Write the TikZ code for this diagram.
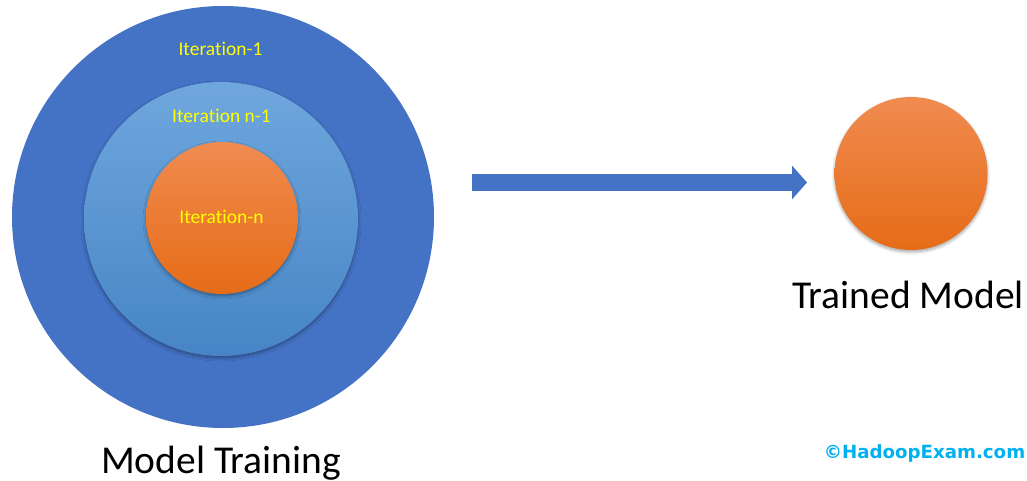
\documentclass[tikz,border=0pt]{standalone}
\usepackage{fontspec}
\setmainfont{Carlito}[Ligatures=NoCommon]
\newfontfamily\wmfont{DejaVu Sans}
\usepackage{tikz}
\usetikzlibrary{arrows.meta,shadows.blur}

\definecolor{darkblue}{HTML}{4472C4}
\definecolor{lightblueT}{HTML}{6FA7DD}
\definecolor{lightblueB}{HTML}{4785C6}
\definecolor{orangeT}{HTML}{F08B50}
\definecolor{orangeB}{HTML}{E66C17}
\definecolor{itercol}{HTML}{FFFF00}
\definecolor{wmblue}{HTML}{00B0F0}

\tikzset{
  ring/.style={circle, inner sep=0pt},
  softshadow/.style={blur shadow={shadow xshift=0pt, shadow yshift=-2pt,
      shadow blur radius=3pt, shadow blur steps=6, shadow opacity=35}},
  orangeball/.style={ring, softshadow, top color=orangeT, bottom color=orangeB},
  iterlbl/.style={inner sep=0pt, anchor=base, text=itercol,
      font=\fontsize{19.5}{21}\selectfont},
  bigtxt/.style={inner sep=0pt, anchor=base, font=\fontsize{39.5}{42}\selectfont},
  flow/.style={draw=darkblue, line width=17pt, -{Triangle[length=15pt,width=33pt]}}
}

\begin{document}
\begin{tikzpicture}[x=1pt, y=-1pt]
\useasboundingbox (0,0) rectangle (1027,481);

% nested training loops
\node[ring, fill=darkblue, minimum size=422pt] (outer) at (223,217) {};
\node[ring, softshadow, top color=lightblueT, bottom color=lightblueB,
      minimum size=274pt] (middle) at (221,219) {};
\node[orangeball, minimum size=152pt] (inner) at (222,218) {};

\node[iterlbl] (it1)  at (220.5,56)  {Iteration-1};
\node[iterlbl] (itn1) at (221.5,123) {Iteration n-1};
\node[iterlbl] (itn)  at (221.5,223) {Iteration-n};

% result
\node[orangeball, minimum size=153pt] (model) at (911,173.5) {};

\coordinate (a0) at (472,182.5);
\coordinate (a1) at (807,182.5);
\draw[flow] (a0) -- (a1);

\node[bigtxt] (training) at (221,473) {Model Training};
\node[bigtxt] (trained)  at (908,308) {Trained Model};

\node[inner sep=0pt, anchor=base, text=wmblue,
      font=\wmfont\bfseries\fontsize{18.2}{20}\selectfont] (wm) at (924.5,458) {©HadoopExam.com};
\end{tikzpicture}
\end{document}
